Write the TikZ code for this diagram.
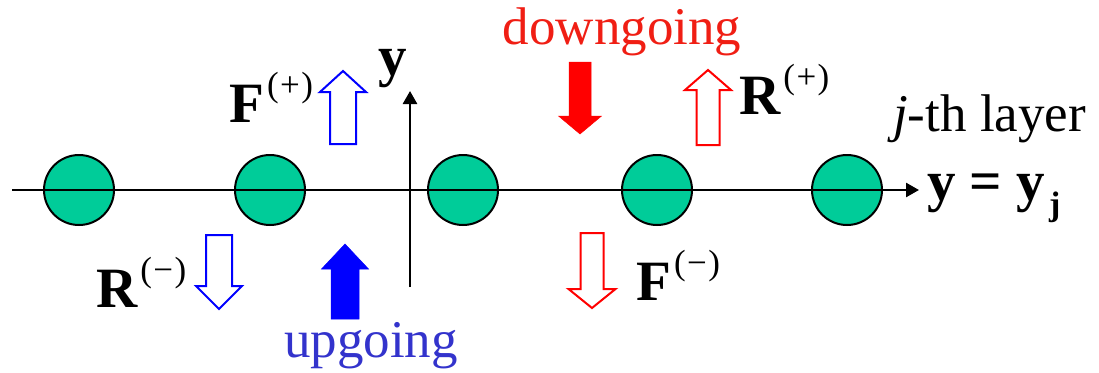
\documentclass[tikz,border=0pt]{standalone}
\usepackage{fontspec}
\setmainfont{Liberation Serif}
\usetikzlibrary{arrows.meta}
\definecolor{ball}{HTML}{00CC99}
\definecolor{upblue}{HTML}{3333CC}
\definecolor{dnred}{HTML}{F01E14}
\newcommand{\blockarrow}[7]{% style, cx, tip, headbase, end, shafthalf, headhalf
  \path[#1] (#2,#3) -- ({#2+#7},#4) -- ({#2+#6},#4) -- ({#2+#6},#5) -- ({#2-#6},#5) -- ({#2-#6},#4) -- ({#2-#7},#4) -- cycle;}
\newcommand{\vlab}[2]{{\bfseries #1}\hspace{3pt}\raisebox{26pt}{\fontsize{35}{35}\selectfont\mdseries(\hspace{1.5pt}#2\hspace{1.5pt})}}
\tikzset{
  ballnode/.style={circle, draw=black, line width=2pt, fill=ball, minimum size=70pt, inner sep=0pt},
  axisline/.style={line width=2.6pt, -{Triangle[length=13pt,width=14pt]}},
  txt/.style={inner sep=0pt, anchor=base west, font=\fontsize{53}{60}\selectfont},
  btxt/.style={inner sep=0pt, anchor=base west, font=\fontsize{57}{60}\selectfont\bfseries},
  hollowblue/.style={draw=blue, line width=2pt, fill=white, line join=miter},
  hollowred/.style={draw=red, line width=2pt, fill=white, line join=miter},
  solidblue/.style={fill=blue, draw=blue, line width=0.5pt},
  solidred/.style={fill=red, draw=red, line width=0.5pt}
}
\begin{document}
\begin{tikzpicture}[x=1pt,y=-1pt]
\useasboundingbox (0,0) rectangle (1099,372);
% balls
\node[ballnode] (c1) at (79,190) {};
\node[ballnode] (c2) at (270,190) {};
\node[ballnode] (c3) at (463,190) {};
\node[ballnode] (c4) at (657,190) {};
\node[ballnode] (c5) at (847,190) {};
% axes
\coordinate (hl) at (12,190);
\coordinate (hr) at (919,190);
\coordinate (vb) at (410,287);
\coordinate (vt) at (410,91);
\draw[axisline] (hl) -- (hr);
\draw[axisline] (vb) -- (vt);
% block arrows
\blockarrow{hollowblue}{343}{71}{92}{144}{13}{23}
\blockarrow{hollowred}{708}{70}{90}{145}{11.5}{23}
\blockarrow{solidred}{580}{134}{116}{62}{11}{21.5}
\blockarrow{solidblue}{345}{244}{269}{319}{14}{23.5}
\blockarrow{hollowblue}{219}{309}{286}{235}{13}{23}
\blockarrow{hollowred}{592}{308}{289}{233}{11.5}{23.5}
% labels
\node[txt, text=dnred, anchor=base] (down) at (622,44) {downgoing};
\node[txt, text=upblue, anchor=base] (up) at (371,357) {upgoing};
\node[btxt] (Fp) at (229,122) {\vlab{F}{+}};
\node[btxt] (Rp) at (739,114) {\vlab{R}{+}};
\node[btxt] (Rm) at (96,307) {\vlab{R}{−}};
\node[btxt] (Fm) at (636,300) {\vlab{F}{−}};
\node[btxt] (ylab) at (378,75) {y};
\node[txt] (layer) at (893,131) {\textit{j}-th layer};
\node[btxt] (yj) at (927,200) {y = y\hspace{4pt}\raisebox{-15pt}{\fontsize{34}{34}\selectfont\bfseries j}};
\end{tikzpicture}
\end{document}
